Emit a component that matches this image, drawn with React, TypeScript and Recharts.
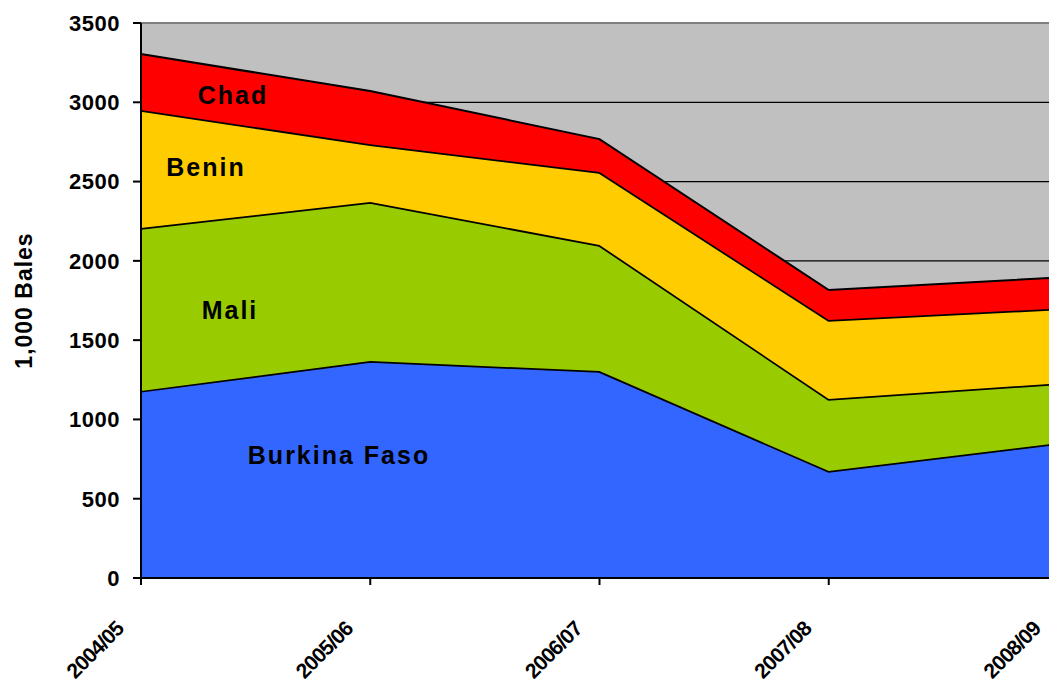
import { AreaChart, Area, XAxis, YAxis, CartesianGrid, ReferenceLine } from 'recharts'

const seasons = ['2004/05', '2005/06', '2006/07', '2007/08', '2008/09']
const burkinaFaso = [1180, 1368, 1305, 675, 851]
const mali = [1027, 1003, 795, 454, 377]
const benin = [744, 365, 460, 498, 471]
const chad = [353, 335, 208, 189, 196]
const yTicks = [0, 500, 1000, 1500, 2000, 2500, 3000, 3500]
const gridValues = [500, 1000, 1500, 2000, 2500, 3000]

const data = seasons.map((season, i) => ({
    season,
    burkina: burkinaFaso[i],
    mali: mali[i],
    benin: benin[i],
    chad: chad[i],
}))

const FONT = "'Liberation Sans', Arial, sans-serif"

// text labels placed inside the bands, as in the original
const bandLabels = [
    { text: 'Chad', x: 233, y: 104 },
    { text: 'Benin', x: 206, y: 176 },
    { text: 'Mali', x: 230, y: 319 },
    { text: 'Burkina Faso', x: 339, y: 464 },
]

function SeasonTick(props: any) {
    const { x, y, payload } = props
    const bx = x - 16
    const by = y + 43
    return (
        <text
            x={bx}
            y={by}
            transform={`rotate(-45, ${bx}, ${by})`}
            textAnchor="end"
            fill="#000"
            fontSize={21}
            fontWeight="bold"
            letterSpacing={-0.8}
            fontFamily={FONT}
        >
            {payload.value}
        </text>
    )
}

export default function App() {
    return (
        <div style={{ position: 'absolute', left: 0, top: 0, width: 1049, height: 679, overflow: 'hidden', background: '#fff' }}>
            {/* the original picture is cropped: the last season sits just past the right edge */}
            <AreaChart width={1058} height={679} data={data} margin={{ top: 23, right: 0, left: 0, bottom: 0 }}>
                <CartesianGrid vertical={false} stroke="#000" strokeWidth={1.2} fill="#C0C0C0" fillOpacity={1} horizontalValues={gridValues} />
                <ReferenceLine y={3500} stroke="#808080" strokeWidth={2} />
                <XAxis
                    dataKey="season"
                    height={101}
                    interval={0}
                    tick={<SeasonTick />}
                    tickSize={7}
                    axisLine={{ stroke: '#000', strokeWidth: 2 }}
                    tickLine={{ stroke: '#000', strokeWidth: 2 }}
                />
                <YAxis
                    width={141}
                    domain={[0, 3500]}
                    ticks={yTicks}
                    interval={0}
                    tickSize={8}
                    tickMargin={13}
                    axisLine={{ stroke: '#000', strokeWidth: 2 }}
                    tickLine={{ stroke: '#000', strokeWidth: 2 }}
                    tick={{ fill: '#000', fontSize: 22, fontWeight: 'bold', fontFamily: FONT, letterSpacing: 0.5 }}
                    label={{
                        value: '1,000 Bales',
                        angle: -90,
                        position: 'insideLeft',
                        offset: 24,
                        style: { fill: '#000', fontSize: 23, fontWeight: 'bold', fontFamily: FONT, letterSpacing: 1, textAnchor: 'middle' },
                    }}
                />
                {/* lower strokes are half covered by the next band, so they are drawn wider */}
                <Area type="linear" dataKey="burkina" stackId="1" stroke="#000" strokeWidth={3.5} fill="#3366FF" fillOpacity={1} isAnimationActive={false} />
                <Area type="linear" dataKey="mali" stackId="1" stroke="#000" strokeWidth={3.5} fill="#99CC00" fillOpacity={1} isAnimationActive={false} />
                <Area type="linear" dataKey="benin" stackId="1" stroke="#000" strokeWidth={3.5} fill="#FFCC00" fillOpacity={1} isAnimationActive={false} />
                <Area type="linear" dataKey="chad" stackId="1" stroke="#000" strokeWidth={2} fill="#FF0000" fillOpacity={1} isAnimationActive={false} />
            </AreaChart>
            <svg width={1049} height={679} style={{ position: 'absolute', left: 0, top: 0, pointerEvents: 'none' }}>
                {bandLabels.map((l) => (
                    <text
                        key={l.text}
                        x={l.x}
                        y={l.y}
                        textAnchor="middle"
                        fill="#000"
                        fontSize={25}
                        fontWeight="bold"
                        letterSpacing={2}
                        fontFamily={FONT}
                    >
                        {l.text}
                    </text>
                ))}
            </svg>
        </div>
    )
}
